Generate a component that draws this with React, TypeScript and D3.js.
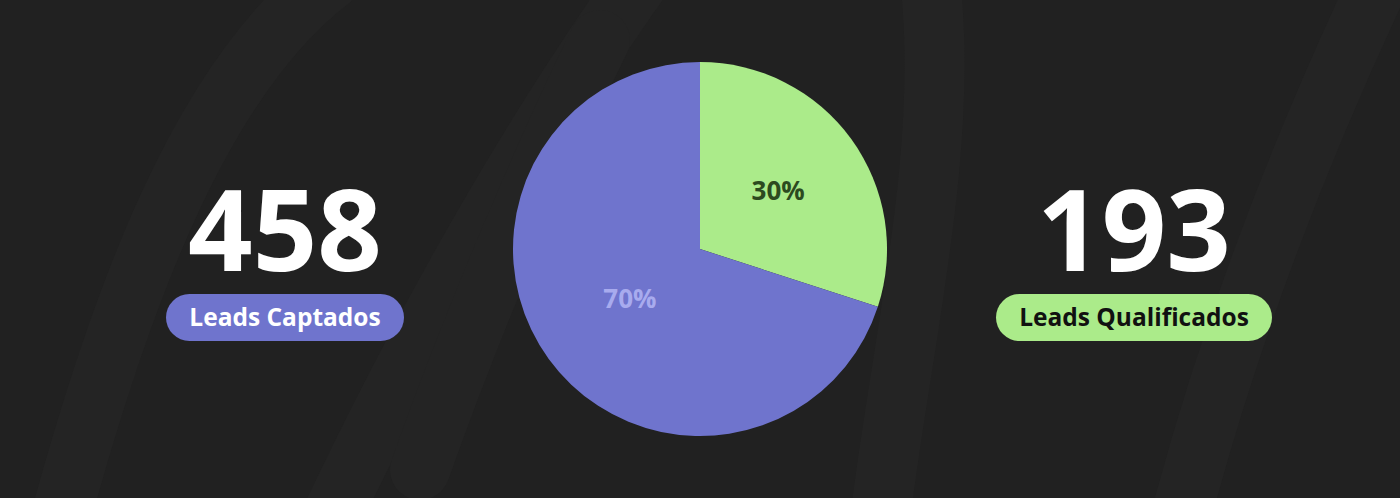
import React, { useEffect, useRef } from 'react';
import * as d3 from 'd3';

const categories = ['Leads Qualificados', 'Leads Captados'];
const shares = [30, 70];
const totals = [193, 458];
const sliceColors = ['#abeb8a', '#6f74cd'];
const labelColors = ['#2c4a1f', '#a8abee'];

const W = 1400;
const H = 498;

const App: React.FC = () => {
  const svgRef = useRef<SVGSVGElement>(null);

  useEffect(() => {
    if (!svgRef.current) return;
    const svg = d3.select(svgRef.current);
    svg.selectAll('*').remove();

    // background
    svg.append('rect').attr('width', W).attr('height', H).attr('fill', '#212121');

    // faint brush strokes in the background
    const strokes = [
      'M 60 520 C 120 300, 200 80, 330 -20',
      'M 330 520 C 420 330, 520 150, 640 -20',
      'M 880 520 C 900 350, 950 150, 930 -20',
      'M 1180 520 C 1230 330, 1300 150, 1380 -20',
      'M 420 470 C 480 300, 560 120, 600 40',
    ];
    svg.append('g')
      .selectAll('path')
      .data(strokes)
      .enter()
      .append('path')
      .attr('d', d => d)
      .attr('fill', 'none')
      .attr('stroke', '#242424')
      .attr('stroke-width', 60)
      .attr('stroke-linecap', 'round');

    // pie
    const cx = 700;
    const cy = 249;
    const radius = 187;
    const pie = d3.pie<number>().sort(null).value(d => d);
    const arcs = pie(shares);
    const arc = d3.arc<d3.PieArcDatum<number>>().innerRadius(0).outerRadius(radius);
    const labelArc = d3.arc<d3.PieArcDatum<number>>().innerRadius(radius * 0.49).outerRadius(radius * 0.49);

    const g = svg.append('g').attr('transform', `translate(${cx},${cy})`);
    g.selectAll('path.slice')
      .data(arcs)
      .enter()
      .append('path')
      .attr('class', 'slice')
      .attr('d', arc)
      .attr('fill', (_, i) => sliceColors[i]);

    g.selectAll('text.pct')
      .data(arcs)
      .enter()
      .append('text')
      .attr('class', 'pct')
      .attr('transform', d => {
        const [x, y] = labelArc.centroid(d);
        return `translate(${x + 4},${y - 4})`;
      })
      .attr('text-anchor', 'middle')
      .attr('dy', '0.35em')
      .style('font-family', '"Open Sans", sans-serif')
      .style('font-weight', '700')
      .style('font-size', '26px')
      .style('fill', (_, i) => labelColors[i])
      .text(d => `${d.data}%`);

    // side stats: captados on the left, qualificados on the right
    const stats = [
      { x: 285, value: totals[1], label: categories[1], fill: sliceColors[1], text: '#ffffff', pillW: 238 },
      { x: 1134, value: totals[0], label: categories[0], fill: sliceColors[0], text: '#111111', pillW: 276 },
    ];

    const sg = svg.selectAll('g.stat')
      .data(stats)
      .enter()
      .append('g')
      .attr('class', 'stat')
      .attr('transform', d => `translate(${d.x},0)`);

    sg.append('text')
      .attr('x', 0)
      .attr('y', 271)
      .attr('text-anchor', 'middle')
      .style('font-family', '"Open Sans", sans-serif')
      .style('font-weight', '700')
      .style('font-size', '113px')
      .style('fill', '#ffffff')
      .text(d => d.value);

    sg.append('rect')
      .attr('x', d => -d.pillW / 2)
      .attr('y', 294)
      .attr('width', d => d.pillW)
      .attr('height', 47)
      .attr('rx', 23.5)
      .attr('fill', d => d.fill);

    sg.append('text')
      .attr('x', 0)
      .attr('y', 326)
      .attr('text-anchor', 'middle')
      .style('font-family', '"Open Sans", sans-serif')
      .style('font-weight', '700')
      .style('font-size', '24.5px')
      .style('fill', d => d.text)
      .text(d => d.label);
  }, []);

  return (
    <svg
      ref={svgRef}
      width={W}
      height={H}
      style={{ position: 'absolute', left: 0, top: 0, display: 'block' }}
    />
  );
};

export default App;
